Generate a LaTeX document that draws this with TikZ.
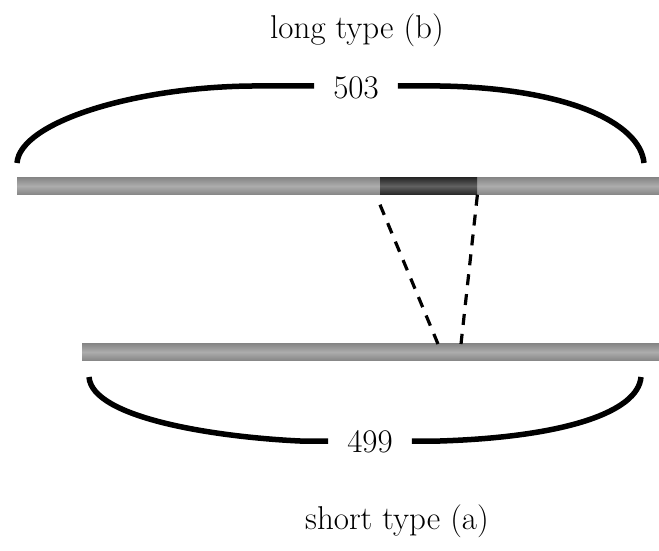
\documentclass[tikz,border=0pt]{standalone}
\usetikzlibrary{calc}
\begin{document}
\begin{tikzpicture}[x=1pt,y=-1pt,
  bar/.style={draw=none, inner sep=0pt, minimum height=17pt, anchor=west,
    top color=gray!95, bottom color=gray!95, middle color=gray!65, shading angle=0},
  darkseg/.style={bar, top color=black!85, bottom color=black!85, middle color=black!62},
  brace/.style={line width=5.5pt, line cap=butt},
  link/.style={line width=3.2pt, dashed, dash pattern=on 11pt off 9pt},
  lbl/.style={font=\fontsize{33}{40}\selectfont, inner sep=2pt},
  num/.style={lbl, inner xsep=19pt}]
\useasboundingbox (0,0) rectangle (659,551);

% titles
\node[lbl] (tb) at (357,30) {long type (b)};
\node[lbl] (ta) at (397,521) {short type (a)};

% the two sequences
\node[bar, minimum width=642pt] (barB) at (17,186) {};
\node[darkseg, minimum width=97pt] (seg) at (380,186) {};
\node[bar, minimum width=577pt] (barA) at (82,352) {};

% lengths
\node[num] (nB) at (356,88) {503};
\node[num] (nA) at (370,442) {499};

% span of the long type
\coordinate (bL) at (17,163);
\coordinate (bR) at (644,163);
\draw[brace] (bL) .. controls (20,122) and (135,87) .. (252,86) -- (nB.west |- 0,86);
\draw[brace] (nB.east |- 0,86) -- (440,86) .. controls (565,88) and (640,122) .. (bR);

% span of the short type
\coordinate (aL) at (89,377);
\coordinate (aR) at (641,377);
\draw[brace] (aL) .. controls (92,418) and (215,437) .. (300,441) -- (nA.west |- 0,441);
\draw[brace] (nA.east |- 0,441) -- (440,441) .. controls (565,437) and (638,412) .. (aR);

% correspondence of the inserted segment
\coordinate (pL) at (438,344);
\coordinate (pR) at (461,344);
\draw[link] ($(seg.south west)+(0,10)$) -- (pL);
\draw[link] (seg.south east) -- (pR);
\end{tikzpicture}
\end{document}
